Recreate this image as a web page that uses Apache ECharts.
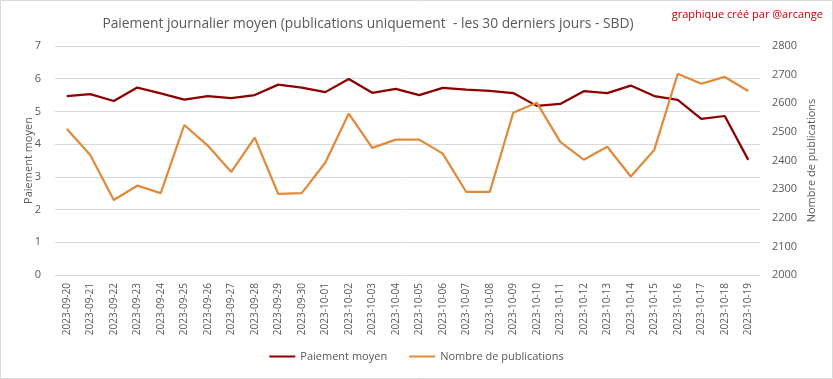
<!DOCTYPE html>
<html><head><meta charset="utf-8">
<script src="https://cdn.jsdelivr.net/npm/echarts@6/dist/echarts.min.js"></script>
<style>html,body{margin:0;padding:0;background:#fff}#c{width:833px;height:379px}</style>
</head><body><div id="c"></div>
<script>
const categories = ["2023-09-20","2023-09-21","2023-09-22","2023-09-23","2023-09-24","2023-09-25","2023-09-26","2023-09-27","2023-09-28","2023-09-29","2023-09-30","2023-10-01","2023-10-02","2023-10-03","2023-10-04","2023-10-05","2023-10-06","2023-10-07","2023-10-08","2023-10-09","2023-10-10","2023-10-11","2023-10-12","2023-10-13","2023-10-14","2023-10-15","2023-10-16","2023-10-17","2023-10-18","2023-10-19"];
const paiementMoyen = [5.47,5.53,5.32,5.73,5.55,5.36,5.47,5.41,5.50,5.82,5.73,5.59,5.99,5.57,5.69,5.50,5.72,5.67,5.63,5.56,5.17,5.23,5.62,5.56,5.79,5.47,5.35,4.77,4.86,3.52];
const nombrePublications = [2511,2419,2262,2312,2286,2524,2452,2360,2480,2283,2286,2392,2564,2444,2473,2473,2424,2290,2290,2567,2602,2465,2403,2448,2344,2437,2703,2668,2692,2643];
const leftTicks = [0,7,1];
const rightTicks = [2000,2800,100];

const FONT = "'Open Sans', 'Liberation Sans', sans-serif";
const chart = echarts.init(document.getElementById('c'), null, {renderer:'canvas'});
chart.setOption({
  animation:false,
  backgroundColor:'#fff',
  title:{text:'Paiement journalier moyen (publications uniquement  - les 30 derniers jours - SBD)',
    left:363, top:12, textAlign:'center',
    textStyle:{fontFamily:FONT,fontSize:13.8,fontWeight:'normal',color:'#595959'}},
  graphic:[
    {type:'rect',shape:{x:0.5,y:0.5,width:832,height:378},style:{fill:'none',stroke:'#d9d9d9',lineWidth:1}},
    {type:'text',right:10,top:9,style:{text:'graphique créé par @arcange',fill:'#c00000',font:"11px "+FONT}}
  ],
  legend:{bottom:12,left:'center',itemWidth:26,itemHeight:2,itemGap:22,icon:'rect',
    textStyle:{fontFamily:FONT,fontSize:11,color:'#595959'},
    data:['Paiement moyen','Nombre de publications']},
  grid:{left:55,right:73,top:46,bottom:104},
  xAxis:{type:'category',data:categories,boundaryGap:true,
    axisLine:{lineStyle:{color:'#d9d9d9'}},axisTick:{show:false},
    axisLabel:{rotate:90,fontFamily:FONT,fontSize:10,color:'#595959',interval:0,margin:8}},
  yAxis:[
    {type:'value',min:leftTicks[0],max:leftTicks[1],interval:leftTicks[2],
     name:'Paiement moyen',nameLocation:'middle',nameGap:21,nameMoveOverlap:false,
     nameTextStyle:{fontFamily:FONT,fontSize:11,color:'#595959'},
     axisLabel:{fontFamily:FONT,fontSize:11,color:'#595959',margin:14},
     splitLine:{lineStyle:{color:'#d9d9d9'}},axisLine:{show:false},axisTick:{show:false}},
    {type:'value',min:rightTicks[0],max:rightTicks[1],interval:rightTicks[2],
     name:'Nombre de publications',nameLocation:'middle',nameGap:46,nameMoveOverlap:false,
     nameTextStyle:{fontFamily:FONT,fontSize:11,color:'#595959'},
     axisLabel:{fontFamily:FONT,fontSize:11,color:'#595959',margin:12,formatter:function(v){return String(v);}},
     splitLine:{show:false},axisLine:{show:false},axisTick:{show:false}}
  ],
  series:[
    {name:'Paiement moyen',type:'line',yAxisIndex:0,data:paiementMoyen,symbol:'none',
     lineStyle:{color:'#8b0000',width:2.25},itemStyle:{color:'#8b0000'}},
    {name:'Nombre de publications',type:'line',yAxisIndex:1,data:nombrePublications,symbol:'none',
     lineStyle:{color:'#e08a3c',width:2.25},itemStyle:{color:'#e08a3c'}}
  ]
});
</script></body></html>
